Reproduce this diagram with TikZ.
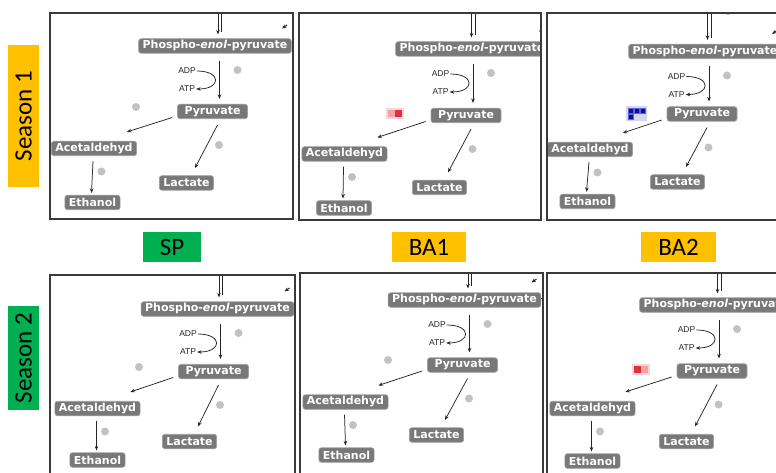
\documentclass[tikz,border=0pt]{standalone}
\usepackage{fontspec}
\setmainfont{Carlito}
\newfontfamily\metfont{DejaVu Sans}
\newfontfamily\coffont{Liberation Sans}
\usetikzlibrary{calc,arrows.meta}
\definecolor{metgray}{HTML}{787878}
\definecolor{metedge}{HTML}{A0A0A0}
\definecolor{dotgray}{HTML}{C2C2C2}
\definecolor{seasonorange}{HTML}{FFC000}
\definecolor{seasongreen}{HTML}{00B050}
\definecolor{framegray}{HTML}{3A3A3A}
\definecolor{pinkbg}{HTML}{F6D6D9}
\definecolor{pinkcell}{HTML}{F2A3AA}
\definecolor{redcell}{HTML}{E0303C}
\definecolor{bluebg}{HTML}{D6D6F4}
\definecolor{bluecell}{HTML}{0E0E9C}
\definecolor{blueedge}{HTML}{6060D8}

\tikzset{
  met/.style={rounded corners=2.5pt, fill=metgray, draw=metedge, line width=0.6pt,
    text=white, font=\metfont\bfseries\fontsize{11}{13}\selectfont,
    inner xsep=4pt, inner ysep=0pt, minimum height=14.5pt},
  cof/.style={font=\coffont\fontsize{8.5}{9}\selectfont, inner sep=0pt, text=black!85},
  arr/.style={-{Stealth[length=4.5pt,width=3.6pt]}, line width=0.75pt, draw=black!85},
  plainline/.style={line width=0.75pt, draw=black!85},
  greydot/.style={fill=dotgray},
  frame/.style={draw=framegray, line width=1.2pt},
  tag/.style={font=\fontsize{25}{28}\selectfont, text=black, inner sep=0pt},
  bluesq/.style={fill=bluecell, draw=blueedge, line width=0.5pt}
}

\newcommand\pathway[6]{%
  \node[met] (#1pep) at (#2) {Phospho-\textit{enol}-pyruvate};
  \node[met, minimum width=70pt] (#1pyr) at (#3) {Pyruvate};
  \node[met] (#1acet) at (#4) {Acetaldehyd};
  \node[met] (#1lac) at (#5) {Lactate};
  \node[met] (#1eth) at (#6) {Ethanol};
  \coordinate (#1ax) at ($(#1pyr.center)+(7,0)$);
  \coordinate (#1inA) at ($(#1ax |- #1pep.north)+(-1.5,-40)$);
  \coordinate (#1inB) at ($(#1ax |- #1pep.north)+(2,-40)$);
  \draw[arr] (#1inA) -- ($(#1ax |- #1pep.north)+(-1.5,-4)$);
  \draw[plainline] (#1inB) -- ($(#1ax |- #1pep.north)+(2,-6)$);
  \draw[arr, shorten <=7pt, shorten >=5pt] (#1ax |- #1pep.south) -- (#1ax |- #1pyr.north);
  \node[cof] (#1adp) at ($(#1ax |- #1pep.center)+(-32.5,25)$) {ADP};
  \node[cof] (#1atp) at ($(#1adp.center)+(0,18)$) {ATP};
  \draw[arr] ($(#1adp.east)+(1,0)$) .. controls +(25,0) and +(25,0) .. ($(#1atp.east)+(1,0)$);
  \fill[greydot] ($(#1ax |- #1adp.center)+(18,-1)$) circle (4);
  \fill[greydot] ($(#1pyr.center)+(6.5,33.5)$) circle (4);
  \fill[greydot] ($(#1acet.center)+(7.5,23)$) circle (4);
  \draw[arr] ($(#1pyr.west)+(-5,6)$) -- ($(#1acet.north east)+(-10,-9)$);
  \draw[arr] ($(#1pyr.south)+(5,6)$) -- ($(#1lac.north)+(8.5,-7.5)$);
  \draw[arr] ($(#1acet.south)+(-1,5)$) -- ($(#1eth.north)+(-1,-2)$);
  \coordinate (#1side) at ($(#1pep.center)+(72,-21)$);
  \draw[arr, line width=1pt] (#1side) -- ($(#1pep.center)+(67,-17.5)$);
}

\begin{document}
\begin{tikzpicture}[x=1pt,y=-1pt]
\useasboundingbox (0,0) rectangle (776,473);
\fill[white] (0,0) rectangle (776,473);

% ---- top row ----
\begin{scope}
  \clip (50,13) rectangle (293,219);
  \pathway{p1}{215,46}{212.5,111.5}{94,148.5}{186.5,183}{92.5,202.5}
  \fill[greydot] (136,107) circle (4);
\end{scope}
\draw[frame] (50,13) rectangle (293,219);

\begin{scope}
  \clip (299,13) rectangle (541,220);
  \pathway{p2}{472,49}{466,115.5}{344.5,154}{439.5,187.5}{344,208}
  \fill[pinkbg] (386,108) rectangle (404,119);
  \fill[pinkcell] (388,110) rectangle (395,117);
  \fill[redcell] (395,110) rectangle (402,117);
\end{scope}
\draw[frame] (299,13) rectangle (541,220);

\begin{scope}
  \clip (547,13) rectangle (790,220);
  \pathway{p3}{705,51.5}{702,114}{590,149.5}{677.5,182}{587.5,201.5}
  \fill[greydot] (728,11) circle (4);
  \fill[bluebg] (626,106) rectangle (647,121);
  \filldraw[bluesq] (628,108) rectangle (633,113);
  \filldraw[bluesq] (634,108) rectangle (639,113);
  \filldraw[bluesq] (640,108) rectangle (645,113);
  \filldraw[bluesq] (628,114) rectangle (633,119);
\end{scope}
\draw[frame] (547,13) rectangle (790,220);

% ---- labels ----
\node[tag, fill=seasongreen, minimum width=58pt, minimum height=30pt] (sp) at (172,247) {SP};
\node[tag, fill=seasonorange, minimum width=74pt, minimum height=30pt] (ba1) at (429,247) {BA1};
\node[tag, fill=seasonorange, minimum width=75pt, minimum height=30pt] (ba2) at (678.5,247) {BA2};
\node[tag, fill=seasonorange, rotate=90, minimum width=142pt, minimum height=31pt] (s1) at (23.5,116) {Season 1};
\node[tag, fill=seasongreen, rotate=90, minimum width=104pt, minimum height=31pt] (s2) at (23.5,358) {Season 2};

% ---- bottom row ----
\begin{scope}
  \clip (50,275) rectangle (295,490);
  \pathway{p4}{217.5,309}{213.5,371.5}{97.5,408.5}{189.5,441.5}{97.5,460}
  \fill[greydot] (139,367) circle (4);
\end{scope}
\draw[frame] (50,275) rectangle (295,490);

\begin{scope}
  \clip (300,273) rectangle (543,490);
  \pathway{p5}{464.5,300}{462.5,365}{345.5,402}{436.5,435}{346.5,455}
  \fill[greydot] (388,360) circle (4);
  \draw[plainline] ($(p5pep.east)+(0,-2)$) -- ($(p5pep.east)+(8,-2)$);
\end{scope}
\draw[frame] (300,273) rectangle (543,490);

\begin{scope}
  \clip (547,273) rectangle (790,490);
  \pathway{p6}{716,305}{712,371}{592.5,408.5}{686.5,441.5}{592.5,461}
  \fill[pinkbg] (632,364) rectangle (650,375);
  \fill[redcell] (634,366) rectangle (641,373);
  \fill[pinkcell] (641,366) rectangle (648,373);
\end{scope}
\draw[frame] (547,273) rectangle (790,490);
\end{tikzpicture}
\end{document}
